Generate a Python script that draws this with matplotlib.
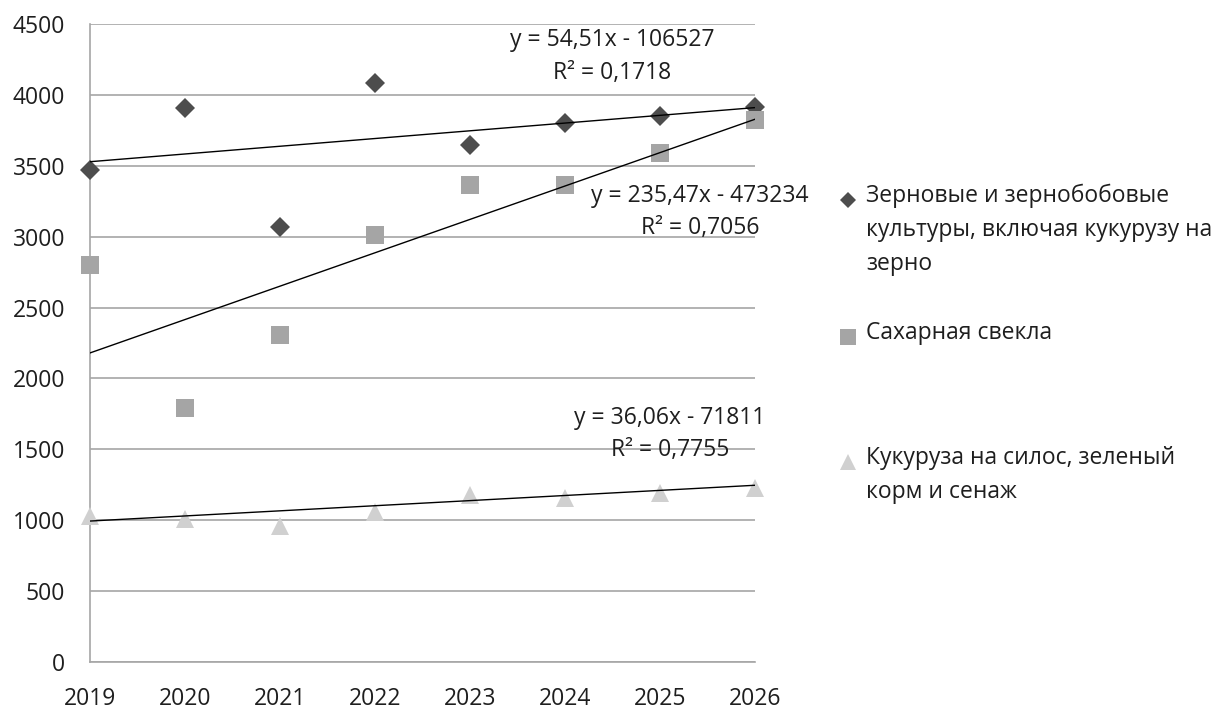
import numpy as np
import matplotlib
matplotlib.use("Agg")
import matplotlib.pyplot as plt
from matplotlib.lines import Line2D

plt.rcParams["font.family"] = ["Open Sans", "DejaVu Sans"]

years = [2019, 2020, 2021, 2022, 2023, 2024, 2025, 2026]
grain = [3470, 3909, 3065, 4086, 3649, 3805, 3854, 3912]
sugar_beet = [2802, 1790, 2307, 3009, 3361, 3361, 3593, 3824]
silage = [1030, 1007, 960, 1060, 1181, 1158, 1193, 1230]

series_names = [
    "Зерновые и зернобобовые\nкультуры, включая кукурузу на\nзерно",
    "Сахарная свекла",
    "Кукуруза на силос, зеленый\nкорм и сенаж",
]
# trendline coefficients as printed on the chart
trend_slope = [54.51, 235.47, 36.06]
trend_intercept = [-106527, -473234, -71811]
trend_r2 = ["0,1718", "0,7056", "0,7755"]
trend_eq = ["54,51", "235,47", "36,06"]

colors = ["#4d4d4d", "#a5a5a5", "#d0d0d0"]
markers = ["D", "s", "^"]
msizes = [10, 13.5, 13.5]
text_color = "#1e1e1e"
grid_color = "#a6a6a6"
fs = 16.5

W, H = 1231, 710
fig = plt.figure(figsize=(W / 100, H / 100), dpi=100)
ax = fig.add_axes([90 / W, 1 - 662 / H, (755 - 90) / W, (662 - 24) / H])

for vals, c, m, ms in zip([grain, sugar_beet, silage], colors, markers, msizes):
    ax.plot(years, vals, linestyle="none", marker=m, markersize=ms,
            color=c, markeredgewidth=0, clip_on=False, zorder=3)

xs = np.array([years[0], years[-1]])
for k, b in zip(trend_slope, trend_intercept):
    ax.plot(xs, k * xs + b, color="black", linewidth=1.0, zorder=4)

ax.set_xlim(2019, 2026)
ax.set_ylim(0, 4500)
ax.set_yticks(np.arange(0, 4501, 500))
ax.set_xticks(years)
ax.grid(axis="y", color=grid_color, linewidth=1.2)
ax.set_axisbelow(True)
for s in ["top", "right"]:
    ax.spines[s].set_visible(False)
for s in ["left", "bottom"]:
    ax.spines[s].set_color(grid_color)
    ax.spines[s].set_linewidth(1.2)
ax.tick_params(length=0, labelsize=fs, colors=text_color, pad=18)
ax.tick_params(axis="y", pad=18)

# trendline labels
label_pos = [(0.785, 0.949), (0.917, 0.706), (0.872, 0.357)]
for (lx, ly), k, b, r2 in zip(label_pos, trend_eq, trend_intercept, trend_r2):
    txt = f"y = {k}x - {abs(b)}\nR² = {r2}"
    ax.text(lx, ly, txt, transform=ax.transAxes, ha="center", va="center",
            multialignment="center", fontsize=fs, color=text_color,
            linespacing=1.45, zorder=5)

# legend drawn by hand (Excel-style, marker at first line)
leg_y = [200, 337, 462]
leg_ms = [8, 11, 11]
for name, y, c, m, ms in zip(series_names, leg_y, colors, markers, leg_ms):
    fig.add_artist(Line2D([848 / W], [1 - y / H], marker=m, markersize=ms,
                          color=c, markeredgewidth=0, linestyle="none"))
    fig.text(866 / W, 1 - (y - 16) / H, name, ha="left", va="top",
             fontsize=fs, color=text_color, linespacing=1.55)

fig.savefig("out.png", dpi=100, facecolor="white")
